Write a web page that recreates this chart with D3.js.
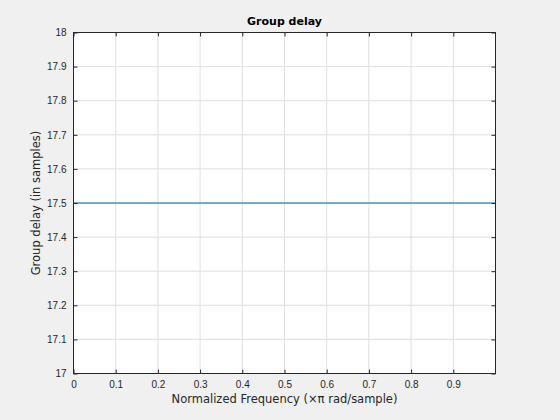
<!DOCTYPE html>
<html>
<head>
<meta charset="utf-8">
<script src="https://cdn.jsdelivr.net/npm/d3@7"></script>
<style>
	body { margin: 0; background: #f0f0f0; }
	svg { display: block; font-family: "DejaVu Sans", sans-serif; }
	.tick text { fill: #262626; font-size: 10px; }
	.grid line { stroke: #dfdfdf; stroke-width: 1; }
</style>
</head>
<body>
<div id="chart"></div>
<script>
// data
const frequencies = [0, 0.999];
const groupDelay = [17.5, 17.5];
const xTicks = [0, 0.1, 0.2, 0.3, 0.4, 0.5, 0.6, 0.7, 0.8, 0.9];
const yTicks = [17, 17.1, 17.2, 17.3, 17.4, 17.5, 17.6, 17.7, 17.8, 17.9, 18];

const width = 560, height = 420;
const margin = { top: 32.5, right: 64.5, bottom: 46.5, left: 73.5 };

const svg = d3.select('#chart').append('svg')
	.attr('width', width).attr('height', height);

svg.append('rect').attr('width', width).attr('height', height).attr('fill', '#f0f0f0');

const x = d3.scaleLinear().domain([0, 1]).range([margin.left, width - margin.right]);
const y = d3.scaleLinear().domain([17, 18]).range([height - margin.bottom, margin.top]);

svg.append('rect')
	.attr('x', margin.left).attr('y', margin.top)
	.attr('width', x(1) - x(0)).attr('height', y(17) - y(18))
	.attr('fill', '#fff');

// grid
const grid = svg.append('g').attr('class', 'grid');
grid.selectAll('line.v').data(xTicks.slice(1)).join('line')
	.attr('x1', d => x(d)).attr('x2', d => x(d))
	.attr('y1', y(17)).attr('y2', y(18));
grid.selectAll('line.h').data(yTicks.slice(1, -1)).join('line')
	.attr('y1', d => y(d)).attr('y2', d => y(d))
	.attr('x1', x(0)).attr('x2', x(1));

// data line
const line = d3.line()
	.x((d, i) => x(frequencies[i]))
	.y(d => y(d));
svg.append('path')
	.attr('d', line(groupDelay))
	.attr('fill', 'none')
	.attr('stroke', '#0065a8')
	.attr('stroke-width', 1);

// axes
const styleAxis = g => {
	g.select('.domain').remove();
	g.selectAll('.tick line').attr('stroke', '#262626');
};

svg.append('g')
	.attr('transform', `translate(0, ${y(17)})`)
	.call(d3.axisBottom(x).tickValues(xTicks).tickSize(-4).tickPadding(7).tickFormat(d3.format('')))
	.call(styleAxis);
svg.append('g')
	.attr('transform', `translate(0, ${y(18)})`)
	.call(d3.axisTop(x).tickValues(xTicks).tickSize(-4).tickFormat(''))
	.call(styleAxis);
svg.append('g')
	.attr('transform', `translate(${x(0)}, 0)`)
	.call(d3.axisLeft(y).tickValues(yTicks).tickSize(-4).tickPadding(7).tickFormat(d3.format('')))
	.call(styleAxis);
svg.append('g')
	.attr('transform', `translate(${x(1)}, 0)`)
	.call(d3.axisRight(y).tickValues(yTicks).tickSize(-4).tickFormat(''))
	.call(styleAxis);

svg.append('rect')
	.attr('x', margin.left).attr('y', margin.top)
	.attr('width', x(1) - x(0)).attr('height', y(17) - y(18))
	.attr('fill', 'none').attr('stroke', '#262626').attr('stroke-width', 1);

// labels
svg.append('text')
	.attr('x', (x(0) + x(1)) / 2).attr('y', 25)
	.attr('text-anchor', 'middle')
	.attr('font-size', 11).attr('font-weight', 'bold').attr('fill', '#000')
	.text('Group delay');

svg.append('text')
	.attr('x', (x(0) + x(1)) / 2).attr('y', 403)
	.attr('text-anchor', 'middle')
	.attr('font-size', 11.5).attr('fill', '#262626')
	.text('Normalized Frequency (\u00d7\u03c0 rad/sample)');

svg.append('text')
	.attr('transform', `translate(40, ${(y(17) + y(18)) / 2}) rotate(-90)`)
	.attr('text-anchor', 'middle')
	.attr('font-size', 11.5).attr('fill', '#262626')
	.text('Group delay (in samples)');
</script>
</body>
</html>
